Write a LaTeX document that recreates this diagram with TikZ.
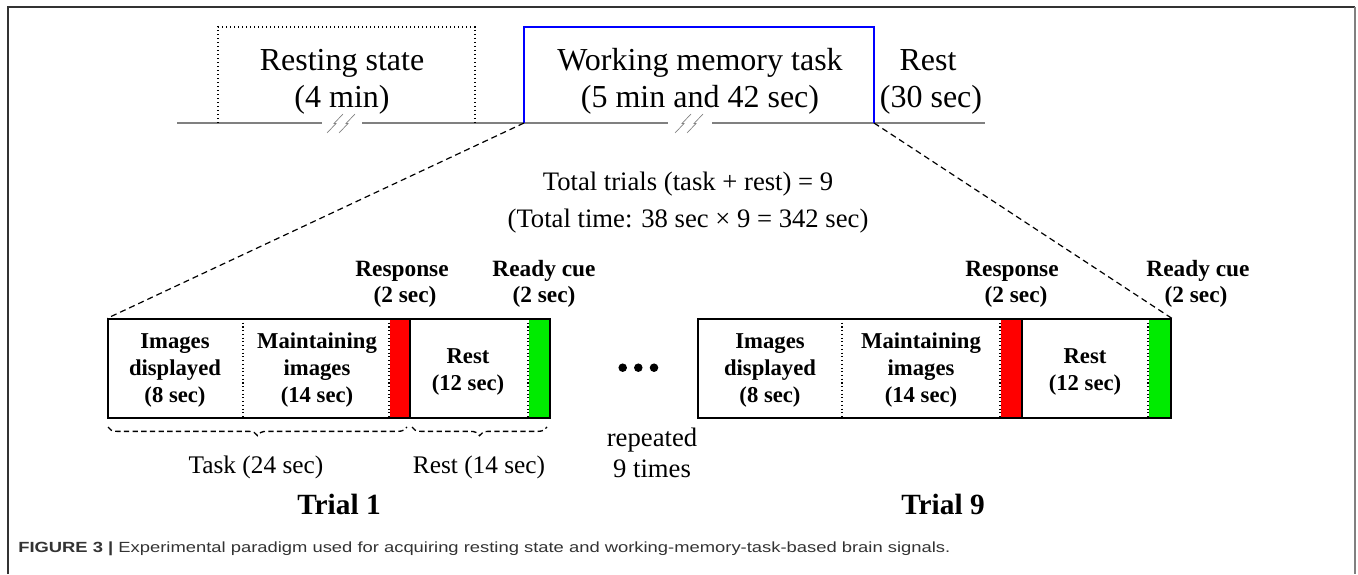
\documentclass[tikz,border=0pt]{standalone}
\usepackage{fontspec}
\setmainfont{Liberation Serif}
\newfontfamily\capfont{Liberation Sans}
\usetikzlibrary{decorations.pathreplacing}
\definecolor{captiongray}{HTML}{333333}
\definecolor{cuegreen}{RGB}{0,235,0}
\definecolor{cuered}{RGB}{255,0,0}
\begin{document}
\begin{tikzpicture}[x=0.75pt,y=-0.75pt,
  toptext/.style={font=\fontsize{24}{28}\selectfont, inner sep=0pt, anchor=base},
  midtext/.style={font=\fontsize{20}{24}\selectfont, inner sep=0pt, anchor=base},
  boxtext/.style={font=\fontsize{17}{20.25}\selectfont\bfseries, align=center, inner sep=0pt},
  cuetext/.style={font=\fontsize{17.5}{20}\selectfont\bfseries, inner sep=0pt, anchor=base},
  spantext/.style={font=\fontsize{19}{22}\selectfont, inner sep=0pt, anchor=base},
  trialtext/.style={font=\fontsize{22}{24}\selectfont\bfseries, inner sep=0pt, anchor=base},
  timeline/.style={draw=gray, line width=0.8pt},
  breakmark/.style={draw=gray, line width=0.5pt},
  segline/.style={draw, dotted, line width=0.8pt},
  trialframe/.style={draw, line width=1.1pt, inner sep=0pt},
  zoomline/.style={draw, dash pattern=on 4.5pt off 3pt, line width=0.9pt},
  spanbrace/.style={draw, dash pattern=on 4pt off 2.5pt, line width=1pt, decorate,
    decoration={brace, mirror, amplitude=6.5pt}},
]
\useasboundingbox (0,0) rectangle (1358,574);

% figure frame
\draw[line width=1.2pt, black!80] (8,574) -- (8,7) -- (1355,7);
\draw[line width=1.6pt, gray] (1355,7) -- (1355,574);

% session time line with break marks
\draw[timeline] (177,123) -- (322,123) (362,123) -- (668,123) (712,123) -- (985,123);
\foreach \bx in {335,347,683,695}
  \draw[breakmark] (\bx-8,133) -- (\bx+1,123.5) -- (\bx-1,123.5) -- (\bx+8,114);

% resting state block (dotted) and working memory block (blue)
\draw[dotted, line width=1pt] (218,123) -- (218,27) -- (475,27) -- (475,123);
\draw[blue, line width=1.2pt] (524,123) -- (524,27) -- (874,27) -- (874,123);
\coordinate (wmL) at (524,123);
\coordinate (wmR) at (874,123);

\node[toptext] (rsA) at (342,71) {Resting state};
\node[toptext] (rsB) at (342,108) {(4 min)};
\node[toptext] (wmA) at (700,71) {Working memory task};
\node[toptext] (wmB) at (700,108) {(5 min and 42 sec)};
\node[toptext] (rtA) at (928,71) {Rest};
\node[toptext] (rtB) at (931,108) {(30 sec)};

\node[midtext] (totA) at (688,190) {Total trials (task + rest) = 9};
\node[midtext] (totB) at (688,227) {(Total time: 38 sec × 9 = 342 sec)};

% ---- trial 1 ----
\fill[cuered] (390,319) rectangle (410,418);
\fill[cuegreen] (529,319) rectangle (550,418);
\draw[segline] (243,319) -- (243,418);
\draw[segline] (389,319) -- (389,418);
\draw[segline] (528,319) -- (528,418);
\draw[line width=1.1pt] (410,319) -- (410,418);
\node[trialframe, minimum width=331.5pt, minimum height=74.25pt] (trialA) at (329,368.5) {};

\node[boxtext] (imgA) at (175,370) {Images\\displayed\\(8 sec)};
\node[boxtext] (mntA) at (317,370) {Maintaining\\images\\(14 sec)};
\node[boxtext] (rstA) at (468,372) {Rest\\(12 sec)};

\node[cuetext] (respA) at (402,276) {Response};
\node[cuetext] (respAt) at (405,302) {(2 sec)};
\node[cuetext] (readyA) at (544,276) {Ready cue};
\node[cuetext] (readyAt) at (544,302) {(2 sec)};

\draw[spanbrace] (108,427) -- (407,427);
\draw[spanbrace] (412,427) -- (547,427);
\node[spantext] (taskA) at (256,473) {Task (24 sec)};
\node[spantext] (restA) at (479,473) {Rest (14 sec)};
\node[trialtext] (trialAlabel) at (339,514) {Trial 1};

% ---- repetition ----
\foreach \dx in {622.7,638.3,654}
  \fill (\dx,367.7) circle (3.2pt);
\node[spantext, font=\fontsize{20}{22}\selectfont] (repA) at (652,446) {repeated};
\node[spantext, font=\fontsize{20}{22}\selectfont] (repB) at (652,477) {9 times};

% ---- trial 9 ----
\fill[cuered] (1001,319) rectangle (1022,418);
\fill[cuegreen] (1149,319) rectangle (1171,418);
\draw[segline] (842,319) -- (842,418);
\draw[segline] (1000,319) -- (1000,418);
\draw[segline] (1148,319) -- (1148,418);
\draw[line width=1.1pt] (1022,319) -- (1022,418);
\node[trialframe, minimum width=354.75pt, minimum height=74.25pt] (trialB) at (934.5,368.5) {};

\node[boxtext] (imgB) at (770,370) {Images\\displayed\\(8 sec)};
\node[boxtext] (mntB) at (921,370) {Maintaining\\images\\(14 sec)};
\node[boxtext] (rstB) at (1085,372) {Rest\\(12 sec)};

\node[cuetext] (respB) at (1012,276) {Response};
\node[cuetext] (respBt) at (1016,302) {(2 sec)};
\node[cuetext] (readyB) at (1198,276) {Ready cue};
\node[cuetext] (readyBt) at (1196,302) {(2 sec)};

\node[trialtext] (trialBlabel) at (943,514) {Trial 9};

% zoom-in connectors
\draw[zoomline] (wmL) -- (trialA.north west);
\draw[zoomline] (wmR) -- (trialB.north east);

% caption
\node[anchor=base west, inner sep=0pt] (caption) at (18,552)
  {\resizebox{699pt}{8pt}{\capfont\color{captiongray}\textbf{FIGURE 3 |} Experimental paradigm used for acquiring resting state and working-memory-task-based brain signals.}};
\end{tikzpicture}
\end{document}
